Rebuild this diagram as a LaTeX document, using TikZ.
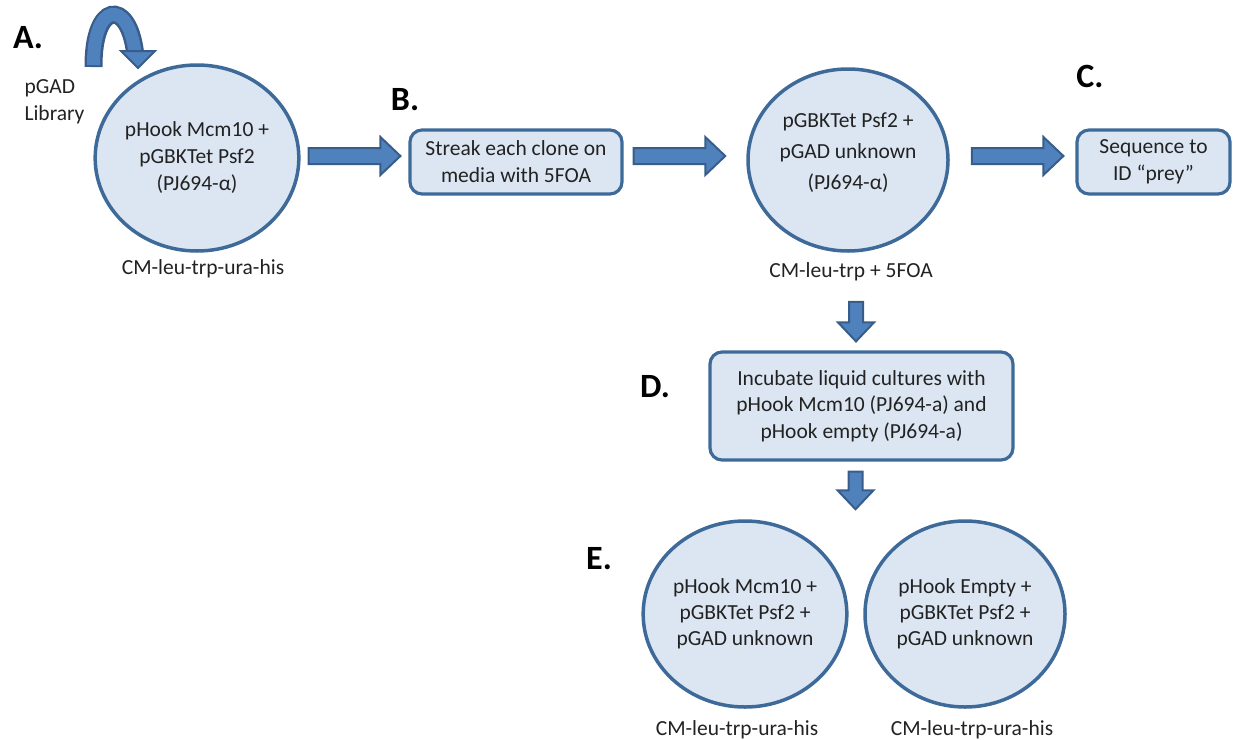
\documentclass[tikz,border=0pt]{standalone}
\usepackage{fontspec}
\setmainfont{Carlito}
\usetikzlibrary{shapes.geometric,calc}
\definecolor{cfill}{HTML}{DCE6F2}
\definecolor{cline}{HTML}{3E6A9A}
\definecolor{afill}{HTML}{4F81BD}
\definecolor{aline}{HTML}{385D8A}
\definecolor{txt}{HTML}{222222}
\tikzset{
  every node/.style={text=txt, font=\fontsize{21.5}{27}\selectfont},
  cell/.style={ellipse, draw=cline, fill=cfill, line width=3.5pt,
    minimum width=200pt, minimum height=186pt, align=center, inner sep=0pt},
  stepbox/.style={rectangle, rounded corners=12pt, draw=cline, fill=cfill,
    line width=3.2pt, align=center, inner sep=0pt},
  barrow/.style={fill=afill, draw=aline, line width=2pt, line join=miter},
  lbl/.style={font=\fontsize{34}{34}\selectfont\bfseries, text=black},
}
\newcommand\rightblock[2]{%
  \path[barrow] let \p1=(#1), \p2=(#2) in
    ({\x1},{\y1+8pt}) -- ({\x2-20pt},{\y1+8pt}) -- ({\x2-20pt},{\y1+19pt}) --
    ({\x2},{\y1}) -- ({\x2-20pt},{\y1-19pt}) -- ({\x2-20pt},{\y1-8pt}) --
    ({\x1},{\y1-8pt}) -- cycle;}
\newcommand\downblock[2]{%
  \path[barrow] let \p1=(#1), \p2=(#2) in
    ({\x1-7pt},{\y1}) -- ({\x1-7pt},{\y2+19pt}) -- ({\x1-18pt},{\y2+19pt}) --
    ({\x1},{\y2}) -- ({\x1+18pt},{\y2+19pt}) -- ({\x1+7pt},{\y2+19pt}) --
    ({\x1+7pt},{\y1}) -- cycle;}
\begin{document}
\begin{tikzpicture}[x=1pt,y=-1pt]
\useasboundingbox (0,0) rectangle (1233,739);
% nodes
\node[cell] (A) at (197,158) {pHook Mcm10 +\\pGBKTet Psf2\\(PJ694-α)};
\node (Am) at (203,269) {CM-leu-trp-ura-his};
\node[align=left, anchor=west] (lib) at (21,102) {pGAD\\Library};
\node[stepbox, minimum width=212pt, minimum height=64pt] (B) at (516,162)
  {Streak each clone on\\media with 5FOA};
\node[cell, minimum height=182pt, font=\fontsize{21.5}{31}\selectfont] (P) at (848,160)
  {pGBKTet Psf2 +\\pGAD unknown\\(PJ694-α)\\[-13pt]\mbox{}};
\node (Pm) at (851,272) {CM-leu-trp + 5FOA};
\node[stepbox, minimum width=153pt, minimum height=64pt] (C) at (1153.5,162)
  {Sequence to\\ID “prey”};
\node[stepbox, minimum width=303pt, minimum height=108pt, font=\fontsize{21.5}{26.5}\selectfont] (D) at (861.5,406)
  {Incubate liquid cultures with\\pHook Mcm10 (PJ694-a) and\\pHook empty (PJ694-a)};
\node[cell, font=\fontsize{21.5}{26}\selectfont] (E1) at (745,614)
  {pHook Mcm10 +\\pGBKTet Psf2 +\\pGAD unknown};
\node[cell, font=\fontsize{21.5}{26}\selectfont] (E2) at (965,614)
  {pHook Empty +\\pGBKTet Psf2 +\\pGAD unknown};
\node (E1m) at (737,730) {CM-leu-trp-ura-his};
\node (E2m) at (972,730) {CM-leu-trp-ura-his};
% labels
\node[lbl] (la) at (28,38) {A.};
\node[lbl] (lb) at (405,100) {B.};
\node[lbl] (lc) at (1090,76) {C.};
\node[lbl] (ld) at (655,387) {D.};
\node[lbl] (le) at (599,559) {E.};
% block arrows
\rightblock{$(A.east)+(8,-2)$}{$(B.west)+(-8,0)$}
\rightblock{$(B.east)+(10,-6)$}{$(P.west)+(-21,0)$}
\rightblock{$(P.east)+(22,-4)$}{$(C.west)+(-12,0)$}
\coordinate (d1tail) at ($(P.south)+(8,49)$);
\coordinate (d1tip) at ($(D.north)+(-6,-9)$);
\downblock{d1tail}{d1tip}
\coordinate (d2tail) at ($(D.south)+(-6,10)$);
\coordinate (d2tip) at ($(E1.north)!0.5!(E2.north)+(0,-10)$);
\downblock{d2tail}{d2tip}
% curved arrow for pGAD library
\draw[aline, line width=18pt] (93.5,67) .. controls (93,2) and (128,-2) .. (135,52);
\draw[afill, line width=13pt] (93.5,65) .. controls (93,2) and (128,-2) .. (135,52);
\path[barrow] (121,51) -- (155,51) -- (138,68) -- cycle;
\end{tikzpicture}
\end{document}
